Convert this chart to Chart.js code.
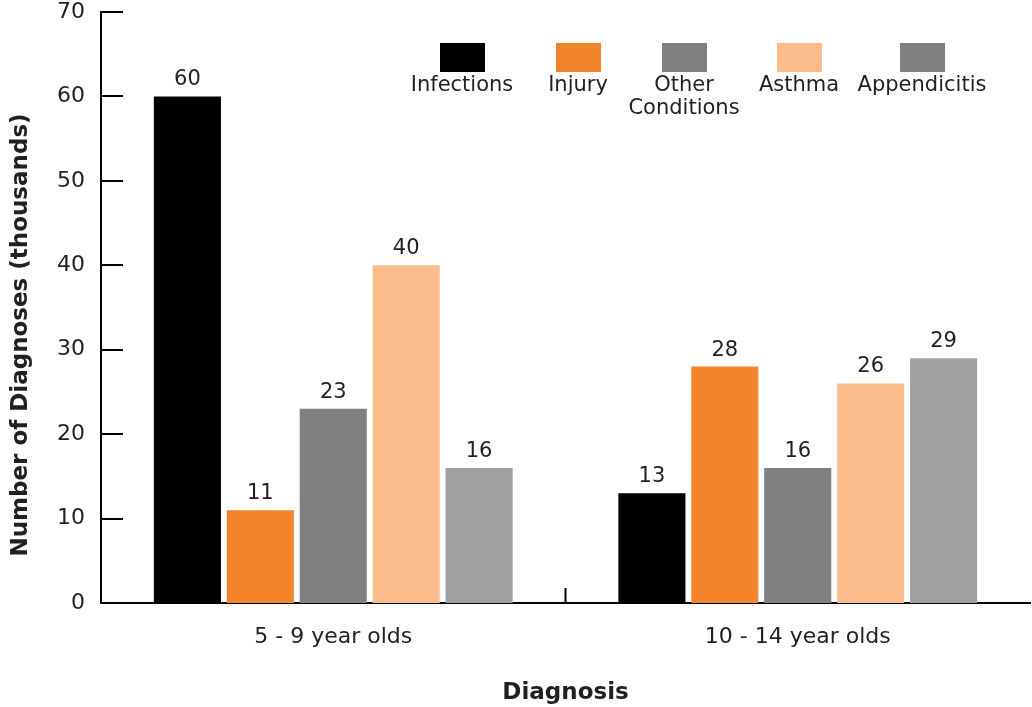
<!DOCTYPE html>
<html>
<head>
<meta charset="utf-8">
<script src="https://cdn.jsdelivr.net/npm/chart.js@4"></script>
<style>
  html, body { margin: 0; padding: 0; background: #fff; }
  #wrap { width: 1032px; height: 707px; }
</style>
</head>
<body>
<div id="wrap"><canvas id="myChart" width="1032" height="707"></canvas></div>
<script>
var groups = ["5 - 9 year olds", "10 - 14 year olds"];
var seriesNames = ["Infections", "Injury", "Other Conditions", "Asthma", "Appendicitis"];
var infections = [60, 13];
var injury = [11, 28];
var otherConditions = [23, 16];
var asthma = [40, 26];
var appendicitis = [16, 29];
var barColors = ["#000000", "#f3842c", "#808080", "#f9bc8a", "#a0a0a0"];
var legendColors = ["#000000", "#f3842c", "#808080", "#f9bc8a", "#808080"];
var yTicks = [0, 10, 20, 30, 40, 50, 60, 70];
var yTitle = "Number of Diagnoses (thousands)";

var textColor = "#231f20";
var fontFamily = "'DejaVu Sans', sans-serif";

var allSeries = [infections, injury, otherConditions, asthma, appendicitis];
var datasets = allSeries.map(function (vals, i) {
  return {
    label: seriesNames[i],
    data: vals,
    backgroundColor: barColors[i],
    borderWidth: 0,
    categoryPercentage: 0.785,
    barPercentage: 0.92
  };
});

// ticks pointing inward, value labels, y title and the legend
var extras = {
  id: "extras",
  afterDatasetsDraw: function (chart) {
    var ctx = chart.ctx;
    var y = chart.scales.y, x = chart.scales.x;
    var area = chart.chartArea;
    ctx.save();
    ctx.strokeStyle = "#000";
    ctx.lineWidth = 2;
    yTicks.forEach(function (v) {
      var py = Math.round(y.getPixelForValue(v));
      ctx.beginPath();
      ctx.moveTo(area.left, py);
      ctx.lineTo(area.left + 22, py);
      ctx.stroke();
    });
    // boundary tick between the groups
    var mid = (x.getPixelForValue(0) + x.getPixelForValue(1)) / 2;
    ctx.beginPath();
    ctx.moveTo(mid, area.bottom);
    ctx.lineTo(mid, area.bottom - 15);
    ctx.stroke();

    // value labels
    ctx.fillStyle = textColor;
    ctx.font = "21px " + fontFamily;
    ctx.textAlign = "center";
    ctx.textBaseline = "bottom";
    chart.data.datasets.forEach(function (ds, i) {
      chart.getDatasetMeta(i).data.forEach(function (bar, j) {
        ctx.fillText(String(ds.data[j]), bar.x, bar.y - 6);
      });
    });

    // legend
    var centers = [462, 578, 684, 799, 922];
    ctx.font = "21px " + fontFamily;
    ctx.textBaseline = "middle";
    seriesNames.forEach(function (name, i) {
      ctx.fillStyle = legendColors[i];
      ctx.fillRect(centers[i] - 22, 43, 45, 29);
      ctx.fillStyle = textColor;
      var lines = name === "Other Conditions" ? ["Other", "Conditions"] : [name];
      lines.forEach(function (ln, k) {
        ctx.fillText(ln, centers[i], 86 + k * 23);
      });
    });

    // y axis title, sits a bit below the axis middle in the original
    ctx.translate(21, 335);
    ctx.rotate(-Math.PI / 2);
    ctx.font = "bold 23px " + fontFamily;
    ctx.fillStyle = textColor;
    ctx.fillText(yTitle, 0, 0);
    ctx.restore();
  }
};

new Chart("myChart", {
  type: "bar",
  data: { labels: groups, datasets: datasets },
  options: {
    responsive: false,
    animation: false,
    layout: { padding: { top: 12, right: 2, left: 0, bottom: 0 } },
    plugins: {
      legend: { display: false },
      tooltip: { enabled: false }
    },
    scales: {
      x: {
        grid: { display: false, drawTicks: false },
        border: { color: "#000", width: 2 },
        ticks: { color: textColor, font: { family: fontFamily, size: 22 }, padding: 21 },
        title: {
          display: true, text: "Diagnosis", color: textColor,
          font: { family: fontFamily, size: 23, weight: "bold" },
          padding: { top: 24, bottom: 0 }
        },
        afterFit: function (s) { s.height = 104; s.paddingLeft = 0; s.paddingRight = 0; }
      },
      y: {
        min: 0, max: 70,
        afterBuildTicks: function (s) { s.ticks = yTicks.map(function (v) { return { value: v }; }); },
        grid: { display: false, drawTicks: false },
        border: { color: "#000", width: 2 },
        ticks: { color: textColor, font: { family: fontFamily, size: 22 }, padding: 16 },
        title: { display: false },
        afterFit: function (s) { s.width = 101; s.paddingTop = 0; s.paddingBottom = 0; }
      }
    }
  },
  plugins: [extras]
});
</script>
</body>
</html>
